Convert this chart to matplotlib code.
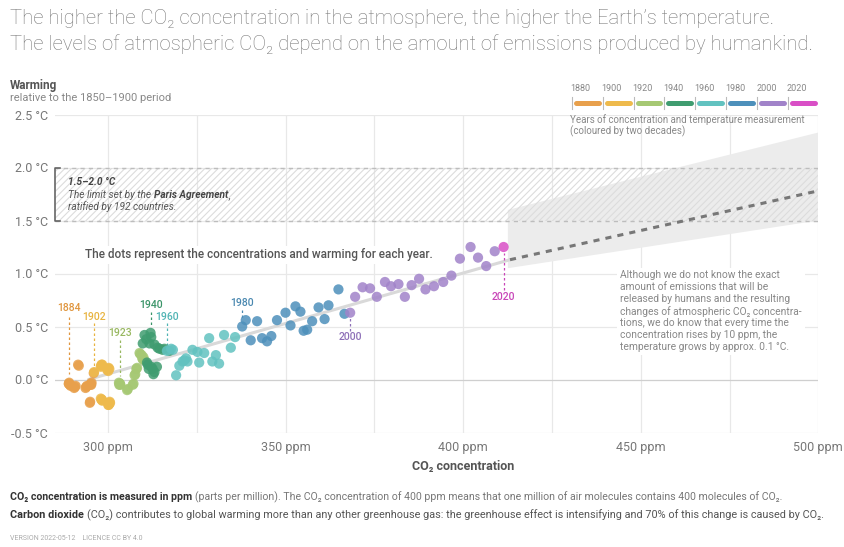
import matplotlib.pyplot as plt
import matplotlib.transforms as mtransforms
from matplotlib.lines import Line2D
import numpy as np

plt.rcParams['font.family'] = ['Roboto', 'DejaVu Sans']
plt.rcParams['hatch.linewidth'] = 0.8
plt.rcParams['hatch.color'] = '#dcdcdc'

# CO2 concentration (ppm) and warming (°C vs 1850-1900) for each year
years = list(range(1880, 2021))
co2_ppm = [
    289.0, 289.3, 289.1, 289.5, 289.0, 290.5, 290.7, 290.9, 291.6, 291.8,
    293.7, 293.9, 294.1, 294.9, 295.0, 295.2, 295.4, 295.3, 295.1, 296.0,
    298.2, 298.0, 296.1, 298.2, 298.4, 300.0, 299.8, 300.2, 300.4, 300.3,
    300.5, 300.1, 298.0, 298.3, 300.2, 300.4, 298.1, 300.6, 300.1, 298.4,
    303.1, 303.2, 303.4, 303.3, 303.5, 305.4, 305.6, 307.0, 307.2, 307.5,
    307.7, 308.0, 308.2, 308.9, 309.1, 309.5, 309.7, 310.3, 310.0, 309.8,
    312.0, 310.3, 309.8, 311.7, 312.2, 313.1, 311.2, 312.2, 312.6, 313.1,
    311.0, 314.0, 315.4, 310.8, 313.8, 312.8, 311.5, 314.5, 315.9, 317.3,
    316.6, 317.8, 318.3, 319.2, 320.1, 321.0, 321.5, 322.4, 322.0, 323.8,
    325.2, 325.7, 327.1, 328.5, 329.4, 330.4, 331.3, 332.7, 334.6, 335.8,
    337.8, 338.8, 340.2, 342.0, 343.4, 344.8, 346.0, 347.6, 350.0, 351.4,
    352.8, 354.2, 355.1, 356.1, 357.5, 359.3, 361.0, 362.1, 364.9, 366.6,
    368.2, 369.6, 371.7, 373.8, 375.7, 378.0, 379.7, 381.8, 383.6, 385.5,
    387.6, 389.4, 391.8, 394.4, 396.7, 399.1, 402.1, 404.2, 406.5, 408.9,
    411.4,
]
warming = [
    -0.04, -0.05, -0.03, -0.06, -0.04, -0.08, -0.07, -0.06, 0.14, 0.13,
    -0.08, -0.07, -0.06, -0.22, -0.21, -0.04, -0.03, -0.05, -0.05, 0.06,
    0.14, 0.12, 0.07, -0.19, -0.20, 0.10, 0.09, -0.24, -0.23, -0.22,
    -0.21, -0.24, -0.18, -0.19, 0.11, 0.10, 0.13, -0.22, 0.08, 0.14,
    -0.03, -0.05, -0.04, -0.04, -0.05, -0.10, -0.09, -0.05, -0.04, 0.04,
    0.05, 0.10, 0.11, 0.25, 0.24, 0.23, 0.20, 0.18, 0.21, 0.19,
    0.44, 0.42, 0.34, 0.34, 0.40, 0.33, 0.14, 0.12, 0.10, 0.07,
    0.16, 0.30, 0.28, 0.38, 0.12, 0.05, 0.10, 0.29, 0.29, 0.27,
    0.27, 0.29, 0.28, 0.04, 0.13, 0.17, 0.18, 0.17, 0.20, 0.28,
    0.26, 0.16, 0.25, 0.39, 0.17, 0.23, 0.15, 0.42, 0.30, 0.40,
    0.50, 0.56, 0.37, 0.55, 0.39, 0.36, 0.41, 0.56, 0.63, 0.51,
    0.69, 0.64, 0.46, 0.47, 0.55, 0.68, 0.57, 0.70, 0.85, 0.62,
    0.63, 0.78, 0.87, 0.86, 0.78, 0.92, 0.88, 0.90, 0.78, 0.89,
    0.95, 0.85, 0.88, 0.92, 0.98, 1.14, 1.25, 1.15, 1.07, 1.21,
    1.25,
]

# two-decade colour bins
bin_years = [1880, 1900, 1920, 1940, 1960, 1980, 2000, 2020]
bin_colors = ['#e8a04c', '#eeba4c', '#a6c873', '#3f9c70',
              '#62c2c0', '#4d90bb', '#a183c9', '#d94fc6']

# highlighted years
label_years = [1884, 1902, 1923, 1940, 1960, 1980, 2000, 2020]
label_colors = ['#e0963e', '#e8b440', '#98b860', '#3a9468',
                '#50b4b4', '#4a88b0', '#8e70b8', '#c845b8']

# fitted trend and projection (ppm, °C)
trend_ppm = [294.5, 413.2]
trend_warming = [0.0, 1.13]
proj_ppm = [413.2, 500]
proj_warming = [1.13, 1.78]
band_ppm = [412.6, 500, 500, 412.6]
band_warming = [1.60, 2.33, 1.50, 1.05]

W, H = 844, 547
fig = plt.figure(figsize=(W / 100, H / 100), dpi=100)
ax = fig.add_axes([55 / W, 114.5 / H, (818.3 - 55) / W, 318 / H])
ax.set_xlim(285.1, 500)
ax.set_ylim(-0.5, 2.5)
for s in ax.spines.values():
    s.set_visible(False)

# grid
for x in np.arange(300, 501, 25):
    ax.axvline(x, color='#e8e8e8', lw=0.9, zorder=0)
for y in np.arange(-0.5, 2.51, 0.5):
    ax.axhline(y, color='#cfcfcf' if y == 0 else '#e8e8e8', lw=0.9, zorder=0)

ax.set_xticks(np.arange(300, 501, 50))
ax.set_xticklabels([f'{v} ppm' for v in range(300, 501, 50)])
ax.set_yticks(np.arange(-0.5, 2.51, 0.5))
ax.set_yticklabels([f'{v:.1f} °C' for v in np.arange(-0.5, 2.51, 0.5)])
ax.tick_params(length=0, labelsize=9, labelcolor='#777777')
ax.tick_params(axis='x', pad=6)
ax.tick_params(axis='y', pad=5)

# Paris agreement band
ax.fill(band_ppm, band_warming, color='#ececec', lw=0, zorder=1)
ax.fill_between([285.1, 500], 1.5, 2.0, facecolor='none', hatch='/////',
                edgecolor='#dcdcdc', lw=0, zorder=1.5)
for y in (1.5, 2.0):
    ax.axhline(y, color='#bdbdbd', lw=1, dashes=(3, 3), zorder=1.6)
bt = mtransforms.blended_transform_factory(ax.transAxes, ax.transData)
ax.plot([0.007, 0, 0, 0.007], [2.0, 2.0, 1.5, 1.5], color='#666666', lw=1.2,
        transform=bt, clip_on=False, zorder=4)

# trend and projection
ax.plot(trend_ppm, trend_warming, color='#d9d9d9', lw=2.2, zorder=2,
        solid_capstyle='round')
ax.plot(proj_ppm, proj_warming, color='#777777', lw=2.2, dashes=(2.0, 2.0),
        zorder=2)

# dots
dot_colors = [bin_colors[min((yr - 1880) // 20, 7)] for yr in years]
ax.scatter(co2_ppm, warming, c=dot_colors, s=54, alpha=0.85, lw=0, zorder=3)

# year annotations (text y, line top, line bottom)
label_layout = {
    1884: (0.675, 0.59, 0.05),
    1902: (0.59, 0.53, 0.12),
    1923: (0.44, 0.37, 0.03),
    1940: (0.70, 0.64, 0.50),
    1960: (0.59, 0.53, 0.33),
    1980: (0.72, 0.66, 0.56),
    2000: (0.40, 0.46, 0.58),
    2020: (0.78, 0.84, 1.19),
}
for yr, col in zip(label_years, label_colors):
    x = co2_ppm[years.index(yr)]
    ty, l0, l1 = label_layout[yr]
    ax.text(x, ty, str(yr), ha='center', va='center', color=col,
            fontsize=7.5, fontweight='medium', zorder=5)
    ax.plot([x, x], [l0, l1], color=col, lw=0.9, dashes=(2, 2), zorder=2.5)

ax.text(293.5, 1.175, 'The dots represent the concentrations and warming for each year.',
        fontsize=8.5, fontweight='medium', color='#555555', va='center', ha='left',
        zorder=5, bbox=dict(facecolor='white', edgecolor='none', pad=1.5))

ax.text(444.2, 1.03,
        'Although we do not know the exact\n'
        'amount of emissions that will be\n'
        'released by humans and the resulting\n'
        'changes of atmospheric CO\u2082 concentra-\n'
        'tions, we do know that every time the\n'
        'concentration rises by 10 ppm, the\n'
        'temperature grows by approx. 0.1 °C.',
        fontsize=7.4, color='#888888', va='top', ha='left', linespacing=1.22,
        zorder=5, bbox=dict(facecolor='white', edgecolor='none', pad=2))

ax.text(400, -0.5 - 34 / 106, 'CO\u2082 concentration',
        fontsize=9, fontweight='bold', color='#555555', ha='center', va='center')

renderer = fig.canvas.get_renderer()
ident = mtransforms.IdentityTransform()


def draw_runs(x, y, runs, size):
    # x, y in display pixels, runs: (text, weight, style, color, gap_before)
    for txt, weight, style, color, gap in runs:
        x += gap * size * 100 / 72
        t = fig.text(x, y, txt, transform=ident, fontsize=size, fontweight=weight,
                     fontstyle=style, color=color, va='center', ha='left', zorder=6)
        x = t.get_window_extent(renderer).x1
    return x


# Paris agreement note
px, py = ax.transData.transform((288.8, 1.863))
draw_runs(px, py, [('1.5–2.0 °C', 'bold', 'italic', '#444444', 0)], 7.3)
px, py = ax.transData.transform((288.8, 1.740))
draw_runs(px, py, [('The limit set by the', 'normal', 'italic', '#555555', 0),
                   ('Paris Agreement', 'bold', 'italic', '#444444', 0.28),
                   (',', 'normal', 'italic', '#555555', 0)], 7.3)
px, py = ax.transData.transform((288.8, 1.627))
draw_runs(px, py, [('ratified by 192 countries.', 'normal', 'italic', '#555555', 0)], 7.3)

# titles
fig.text(10, H - 18, 'The higher the CO\u2082 concentration in the atmosphere, the higher the Earth\u2019s temperature.',
         transform=ident, fontsize=14.6, fontweight='light', color='#777777', va='center')
fig.text(10, H - 44, 'The levels of atmospheric CO\u2082 depend on the amount of emissions produced by humankind.',
         transform=ident, fontsize=14.6, fontweight='light', color='#777777', va='center')
fig.text(10, H - 85, 'Warming', transform=ident, fontsize=8.5, fontweight='bold',
         color='#555555', va='center')
fig.text(10, H - 98, 'relative to the 1850\u20131900 period', transform=ident, fontsize=8,
         color='#888888', va='center')

# legend
seg_w = 30.9
for i, (yr, col) in enumerate(zip(bin_years, bin_colors)):
    x0 = 571.7 + i * seg_w
    fig.add_artist(Line2D([x0, x0], [H - 97, H - 109], color='#bbbbbb', lw=0.8,
                          transform=ident))
    fig.add_artist(Line2D([x0 + 4, x0 + seg_w - 4], [H - 103.3, H - 103.3], color=col,
                          lw=3.6, solid_capstyle='round', transform=ident))
    fig.text(x0 - 1, H - 88.3, str(yr), transform=ident, fontsize=6.5,
             color='#888888', va='center', ha='left')
fig.text(570, H - 120, 'Years of concentration and temperature measurement',
         transform=ident, fontsize=7, color='#888888', va='center')
fig.text(570, H - 131, '(coloured by two decades)', transform=ident, fontsize=7,
         color='#888888', va='center')

# footnotes
draw_runs(10, H - 497, [('CO\u2082 concentration is measured in ppm', 'bold', 'normal', '#333333', 0),
                        ('(parts per million). The CO\u2082 concentration of 400 ppm means that one million of air molecules contains 400 molecules of CO\u2082.',
                         'normal', 'normal', '#777777', 0.28)], 7.6)
draw_runs(10, H - 515, [('Carbon dioxide', 'bold', 'normal', '#333333', 0),
                        ('(CO\u2082) contributes to global warming more than any other greenhouse gas: the greenhouse effect is intensifying and 70% of this change is caused by CO\u2082.',
                         'normal', 'normal', '#555555', 0.28)], 7.8)
fig.text(10, H - 538, 'VERSION 2022-05-12    LICENCE CC BY 4.0', transform=ident,
         fontsize=5, color='#aaaaaa', va='center')

fig.savefig('out.png', dpi=100)
